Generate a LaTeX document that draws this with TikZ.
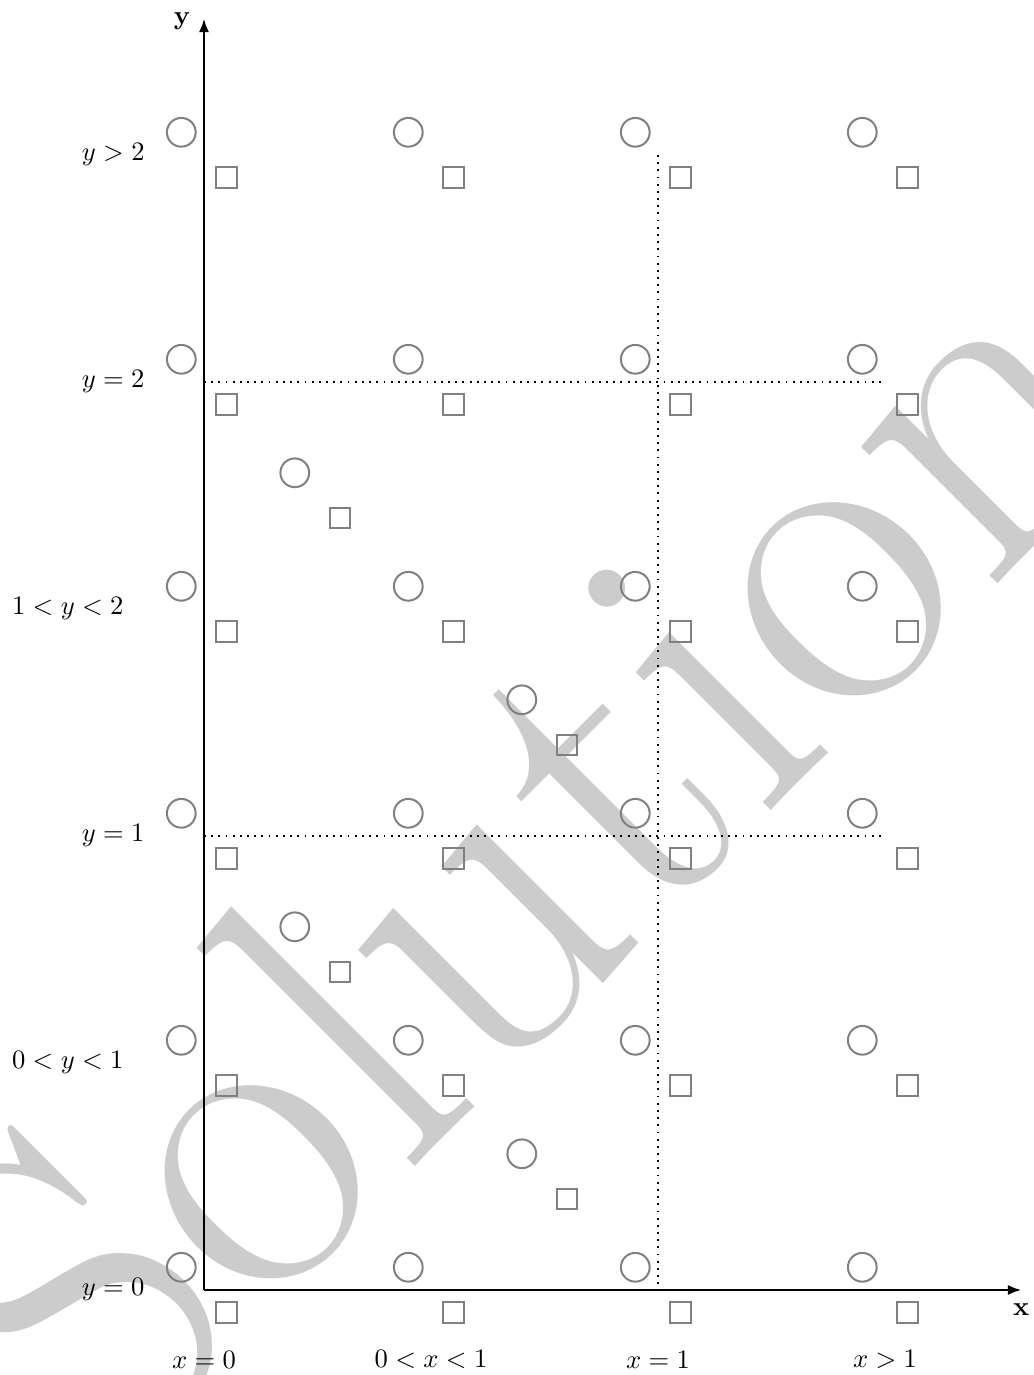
\documentclass[tikz,border=0pt]{standalone}
\usepackage{fontspec}
\newfontfamily\wmfont{lmroman17-regular.otf}
\usetikzlibrary{arrows.meta}
\begin{document}
\begin{tikzpicture}[x=6cm,y=6cm,
  mark shape/.style={draw=gray, line width=0.75pt, inner sep=0pt},
  circ/.style={mark shape, circle, minimum size=0.38cm},
  sq/.style={mark shape, rectangle, minimum size=0.27cm},
  axisline/.style={line width=0.8pt, -{Latex[length=5pt,width=3.8pt]}},
  guide/.style={dotted, line width=0.7pt},
  wm/.style={text=black!20, font=\wmfont\fontsize{170}{170}\selectfont, rotate=45, inner sep=0pt, anchor=base},
  lab/.style={inner sep=0pt}
]
\useasboundingbox (-0.44934,-0.18722) rectangle (1.82819,2.84141);
% watermark
\node[wm] (wm) at (0.922,0.728) {Solution};
% guides
\coordinate (g1) at (0,2);  \coordinate (g2) at (1.5,2);
\coordinate (g3) at (0,1);  \coordinate (g4) at (1.5,1);
\coordinate (g5) at (1,2.5); \coordinate (g6) at (1,0);
\draw[guide] (g1) -- (g2);
\draw[guide] (g3) -- (g4);
\draw[guide] (g5) -- (g6);
% axes
\coordinate (O) at (0,0);
\coordinate (xend) at (1.8,0);
\coordinate (yend) at (0,2.8);
\draw[axisline] (O) -- (xend);
\draw[axisline] (O) -- (yend);
\node[below, yshift=-1.5pt] (xl) at (xend) {\textbf{x}};
\node[left=1.7pt, yshift=-1pt] (yl) at (yend) {\textbf{y}};
% points
\foreach \px/\py [count=\i] in {0/0,0.5/0,1/0,1.5/0,
  0/0.5,0.5/0.5,1/0.5,1.5/0.5,
  0/1,0.5/1,1/1,1.5/1,
  0/1.5,0.5/1.5,1/1.5,1.5/1.5,
  0/2,0.5/2,1/2,1.5/2,
  0/2.5,0.5/2.5,1/2.5,1.5/2.5,
  0.25/1.75,0.75/1.25,0.25/0.75,0.75/0.25}{
  \node[circ] (c\i) at (\px-0.05,\py+0.05) {};
  \node[sq] (s\i) at (\px+0.05,\py-0.05) {};
}
% labels
\node (lx0) at (0,-0.153) {$x=0$};
\node (lx1) at (0.5,-0.153) {$0<x<1$};
\node (lx2) at (1,-0.153) {$x=1$};
\node (lx3) at (1.5,-0.153) {$x>1$};
\node (ly0) at (-0.2,0) {$y=0$};
\node (ly1) at (-0.3,0.5) {$0<y<1$};
\node (ly2) at (-0.2,1) {$y=1$};
\node (ly3) at (-0.3,1.5) {$1<y<2$};
\node (ly4) at (-0.2,2) {$y=2$};
\node (ly5) at (-0.2,2.5) {$y>2$};
\end{tikzpicture}
\end{document}
